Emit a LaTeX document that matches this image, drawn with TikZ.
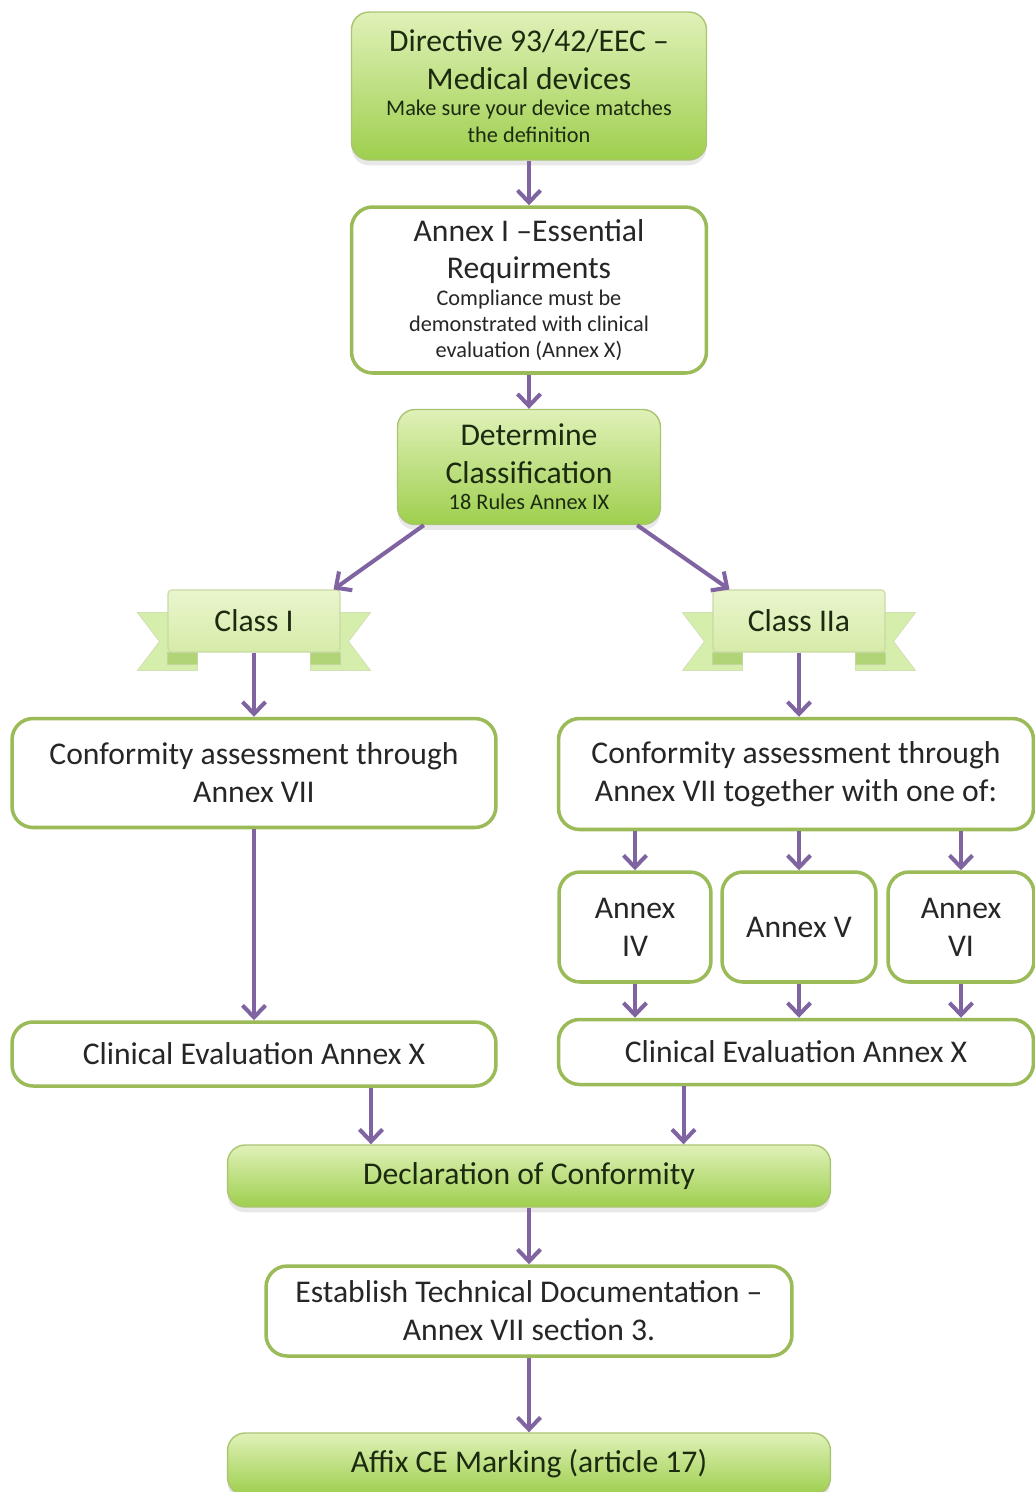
\documentclass[tikz,border=0pt]{standalone}
\usepackage{fontspec}
\setmainfont{Carlito}
\usetikzlibrary{arrows.meta,positioning,calc,shadows,backgrounds}
\definecolor{boxline}{RGB}{155,187,89}
\definecolor{gtop}{RGB}{224,241,184}
\definecolor{gbot}{RGB}{158,207,78}
\definecolor{arrcol}{RGB}{128,100,162}
\definecolor{txtcol}{RGB}{28,42,16}
\definecolor{tailcol}{RGB}{214,238,172}
\definecolor{foldcol}{RGB}{176,212,118}
\newcommand{\bigtxt}{\fontsize{18}{21.5}\selectfont}
\newcommand{\smtxt}{\fontsize{12.7}{15}\selectfont}

\begin{document}
\begin{tikzpicture}[
    x=0.02cm, y=-0.02cm,
    >={Straight Barb[length=2.4mm, width=4.6mm]},
    greenbox/.style={rectangle, rounded corners=10pt, draw=boxline!85!white, line width=0.8pt, top color=gtop, bottom color=gbot, text=txtcol, align=flush center, inner sep=2pt, font=\bigtxt, drop shadow={opacity=0.18, shadow xshift=0pt, shadow yshift=-3pt}},
    whitebox/.style={rectangle, rounded corners=12pt, draw=boxline, line width=2pt, fill=white, text=black!85, align=flush center, inner sep=2pt, font=\bigtxt},
    ribbon/.style={rectangle, rounded corners=2pt, draw=boxline!55!white, line width=0.6pt, top color=gtop!70!white, bottom color=gtop!85!gbot, text=txtcol, minimum width=3.44cm, minimum height=1.24cm, font=\bigtxt},
    tail/.style={fill=tailcol, draw=boxline!45!white, line width=0.5pt},
    fold/.style={fill=foldcol, draw=boxline!60!white, line width=0.5pt},
    arr/.style={->, draw=arrcol, line width=2.3pt},
]
\useasboundingbox (0,0) rectangle (1035,1492);

% top of the chain
\node[greenbox, minimum width=7.1cm, minimum height=2.96cm, text width=6.8cm] (dir) at (529,86)
  {{\bigtxt Directive 93/42/EEC –\\ Medical devices\par}{\smtxt Make sure your device matches\\ the definition\par}};
\node[whitebox, minimum width=7.1cm, minimum height=3.32cm, text width=6.8cm] (ess) at (529,290)
  {{\bigtxt Annex I –Essential\\ Requirments\par}{\smtxt Compliance must be\\ demonstrated with clinical\\ evaluation (Annex X)\par}};
\node[greenbox, minimum width=5.26cm, minimum height=2.3cm, text width=5cm] (cls) at (529,467)
  {{\bigtxt Determine\\ Classification\par}{\smtxt 18 Rules Annex IX\par}};

% classes
\node[ribbon] (r1) at (254,621) {Class I};
\node[ribbon] (r2) at (799,621) {Class IIa};
\begin{scope}[on background layer]
\foreach \r in {r1,r2} {
  \foreach \c/\s in {south west/1, south east/-1} {
    \begin{scope}[shift={(\r.\c)}, xscale=\s]
      \path[tail] (-30,-40) -- (30,-40) -- (30,18) -- (-30,18) -- (-8,-11) -- cycle;
      \path[fold] (0,0) rectangle (30,12);
    \end{scope}
  }
}
\end{scope}

% left branch
\node[whitebox, minimum width=9.68cm, minimum height=2.18cm] (c1) at (254,773) {Conformity assessment through\\ Annex VII};
\node[whitebox, minimum width=9.68cm, minimum height=1.28cm] (e1) at (254,1054) {Clinical Evaluation Annex X};

% right branch
\node[whitebox, minimum width=9.5cm, minimum height=2.22cm] (c2) at (796,774) {Conformity assessment through\\ Annex VII together with one of:};
\node[whitebox, minimum width=3.04cm, minimum height=2.2cm] (a4) at (635,927) {Annex\\ IV};
\node[whitebox, minimum width=3.08cm, minimum height=2.2cm] (a5) at (799,927) {Annex V};
\node[whitebox, minimum width=2.92cm, minimum height=2.2cm] (a6) at (961,927) {Annex\\ VI};
\node[whitebox, minimum width=9.5cm, minimum height=1.3cm] (e2) at (796,1052) {Clinical Evaluation Annex X};

% bottom of the chain
\node[greenbox, minimum width=12.06cm, minimum height=1.24cm] (d) at (529,1176) {Declaration of Conformity};
\node[whitebox, minimum width=10.52cm, minimum height=1.8cm] (t) at (529,1311) {Establish Technical Documentation –\\ Annex VII section 3.};
\node[greenbox, minimum width=12.06cm, minimum height=1.24cm] (af) at (529,1464) {Affix CE Marking (article 17)};

% connectors
\draw[arr] (dir) -- (ess);
\draw[arr] (ess) -- (cls);
\draw[arr] ([xshift=0.54cm]cls.south west) -- ([xshift=-0.14cm]r1.north east);
\draw[arr] ([xshift=-0.48cm]cls.south east) -- ([xshift=0.34cm]r2.north west);
\draw[arr] (r1) -- (c1);
\draw[arr] (r2.south) -- (r2.south |- c2.north);
\draw[arr] (c1) -- (e1);
\foreach \a in {a4,a5,a6} {
  \draw[arr] (c2.south -| \a.north) -- (\a.north);
  \draw[arr] (\a.south) -- (\a.south |- e2.north);
}
\coordinate (e1o) at ([xshift=2.34cm]e1.south);
\coordinate (e2o) at ([xshift=-2.25cm]e2.south);
\draw[arr] (e1o) -- (e1o |- d.north);
\draw[arr] (e2o) -- (e2o |- d.north);
\draw[arr] (d) -- (t);
\draw[arr] (t) -- (af);
\end{tikzpicture}
\end{document}
